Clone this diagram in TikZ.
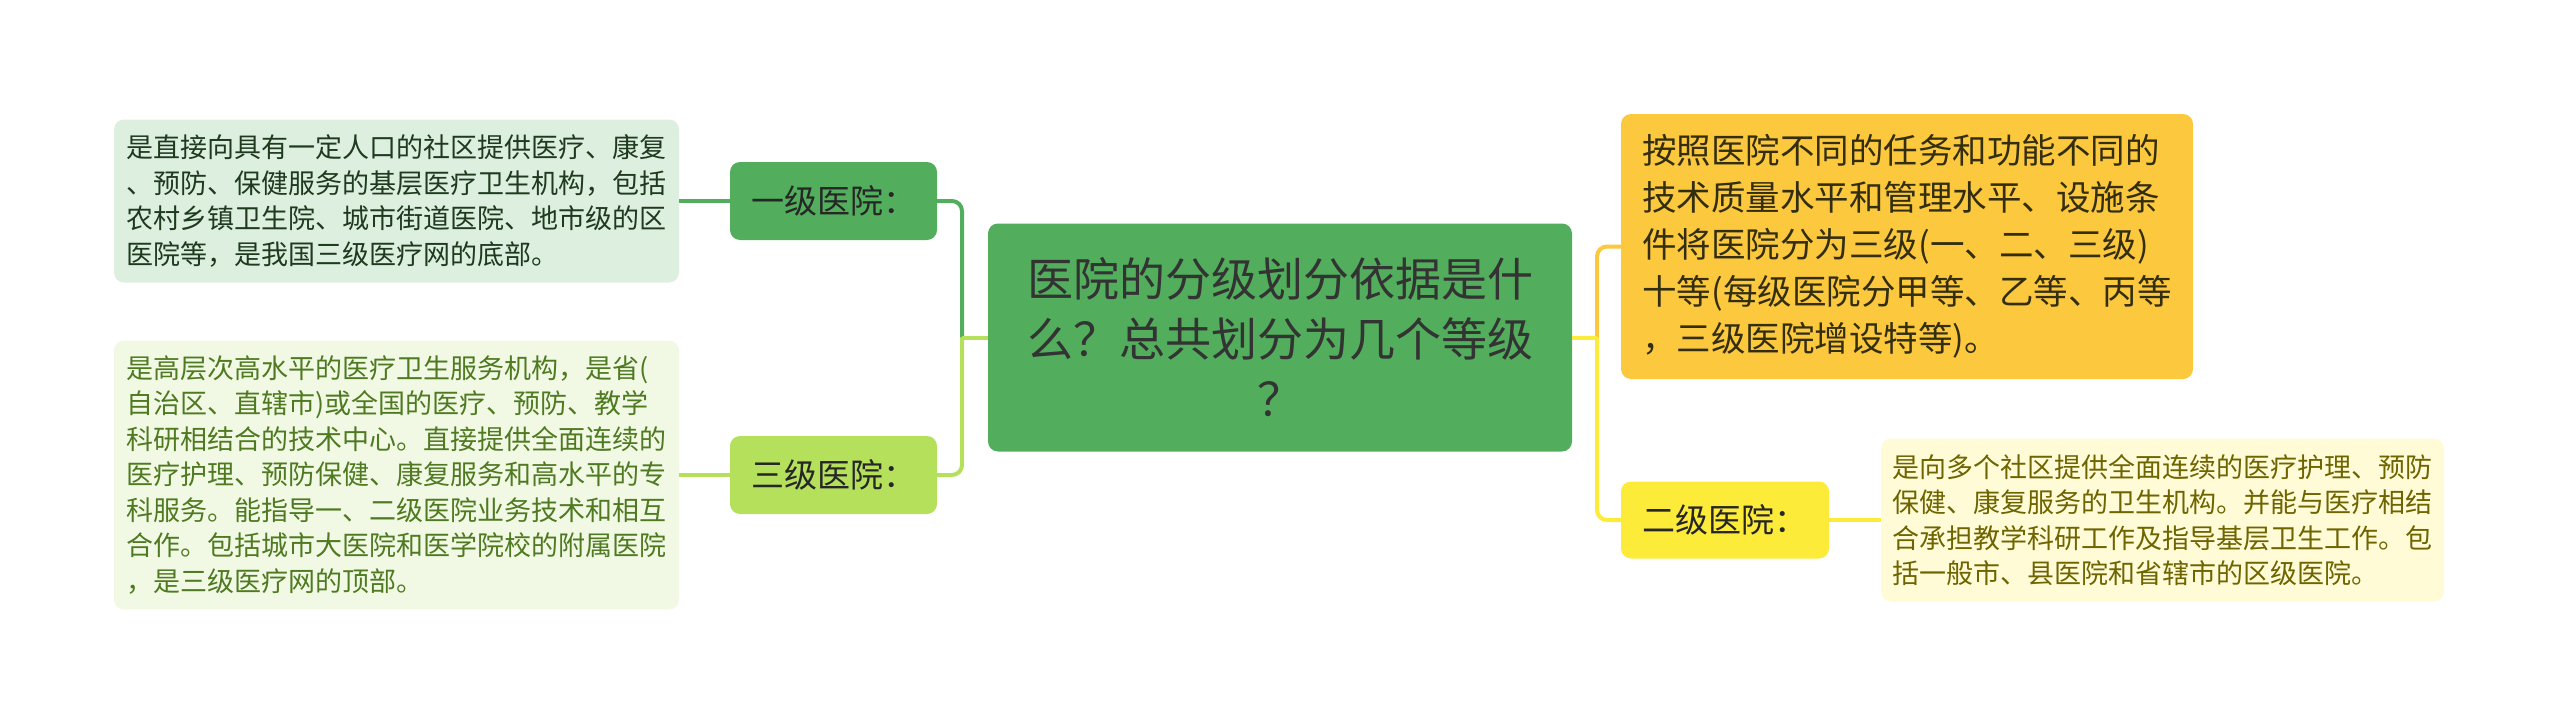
\documentclass[tikz,border=0pt]{standalone}
\usepackage{fontspec}
\setmainfont{Noto Sans CJK SC}
\usepackage{tikz}

\definecolor{lvone}{HTML}{52AE5C}
\definecolor{lvonelight}{HTML}{DDEFDF}
\definecolor{lvthree}{HTML}{B4E05C}
\definecolor{lvthreelight}{HTML}{F1F9E4}
\definecolor{lvorange}{HTML}{FCC83E}
\definecolor{lvtwo}{HTML}{FDEB3A}
\definecolor{lvtwolight}{HTML}{FFFBD6}

\tikzset{
  rootbox/.style={fill=lvone, rounded corners=10pt, inner sep=0pt, align=center,
    minimum width=584, minimum height=228, text=black!80,
    font=\fontsize{46}{60}\selectfont},
  branch/.style={rounded corners=10pt, inner sep=0pt, align=center,
    minimum width=207, minimum height=78, text=black!85,
    font=\fontsize{33}{40}\selectfont},
  note/.style={rounded corners=10pt, inner sep=0pt, align=left,
    minimum width=565, font=\fontsize{27}{35.5}\selectfont},
  link/.style={line width=4pt, rounded corners=10pt}
}

\begin{document}
\begin{tikzpicture}[x=1pt,y=-1pt]
  \useasboundingbox (0,0) rectangle (2560,725);

  % Centre
  \node[rootbox] (root) at (1280,337.5) {医院的分级划分依据是什\\么？总共划分为几个等级\\？};

  % Left side
  \node[branch, fill=lvone] (yiji) at (833.5,201) {一级医院：};
  \node[branch, fill=lvthree] (sanji) at (833.5,475) {三级医院：};

  \node[note, fill=lvonelight, text={rgb,255:red,31;green,58;blue,31}, minimum height=163] (yijitext) at (396.5,201) {是直接向具有一定人口的社区提供医疗、康复\\
    、预防、保健服务的基层医疗卫生机构，包括\\
    农村乡镇卫生院、城市街道医院、地市级的区\\
    医院等，是我国三级医疗网的底部。};
  \node[note, fill=lvthreelight, text={rgb,255:red,79;green,122;blue,33}, minimum height=269] (sanjitext) at (396.5,475) {是高层次高水平的医疗卫生服务机构，是省(\\
    自治区、直辖市)或全国的医疗、预防、教学\\
    科研相结合的技术中心。直接提供全面连续的\\
    医疗护理、预防保健、康复服务和高水平的专\\
    科服务。能指导一、二级医院业务技术和相互\\
    合作。包括城市大医院和医学院校的附属医院\\
    ，是三级医疗网的顶部。};

  % Right side
  \node[note, fill=lvorange, text={rgb,255:red,51;green,46;blue,16}, minimum width=572, minimum height=265,
    font=\fontsize{34.5}{47}\selectfont] (grade) at (1907,246.5) {按照医院不同的任务和功能不同的\\
    技术质量水平和管理水平、设施条\\
    件将医院分为三级(一、二、三级)\\
    十等(每级医院分甲等、乙等、丙等\\
    ，三级医院增设特等)。};
  \node[branch, fill=lvtwo, minimum width=208, minimum height=77] (erji) at (1725,520) {二级医院：};
  \node[note, fill=lvtwolight, text={rgb,255:red,110;green,100;blue,0}, minimum width=563, minimum height=163] (erjitext) at (2162.5,520) {是向多个社区提供全面连续的医疗护理、预防\\
    保健、康复服务的卫生机构。并能与医疗相结\\
    合承担教学科研工作及指导基层卫生工作。包\\
    括一般市、县医院和省辖市的区级医院。};

  % Connectors
  \coordinate (leftfork) at (962,337.5);
  \coordinate (rightfork) at (1597,337.5);

  \draw[link, lvone] (leftfork) |- (yiji.east);
  \draw[link, lvthree] (leftfork) |- (sanji.east);
  \draw[link, lvthree] (root.west) -- (leftfork);
  \draw[link, lvone] (yiji.west) -- (yijitext.east);
  \draw[link, lvthree] (sanji.west) -- (sanjitext.east);

  \draw[link, lvorange] (rightfork) |- (grade.west);
  \draw[link, lvtwo] (rightfork) |- (erji.west);
  \draw[link, lvtwo] (root.east) -- (rightfork);
  \draw[link, lvtwo] (erji.east) -- (erjitext.west);
\end{tikzpicture}
\end{document}
